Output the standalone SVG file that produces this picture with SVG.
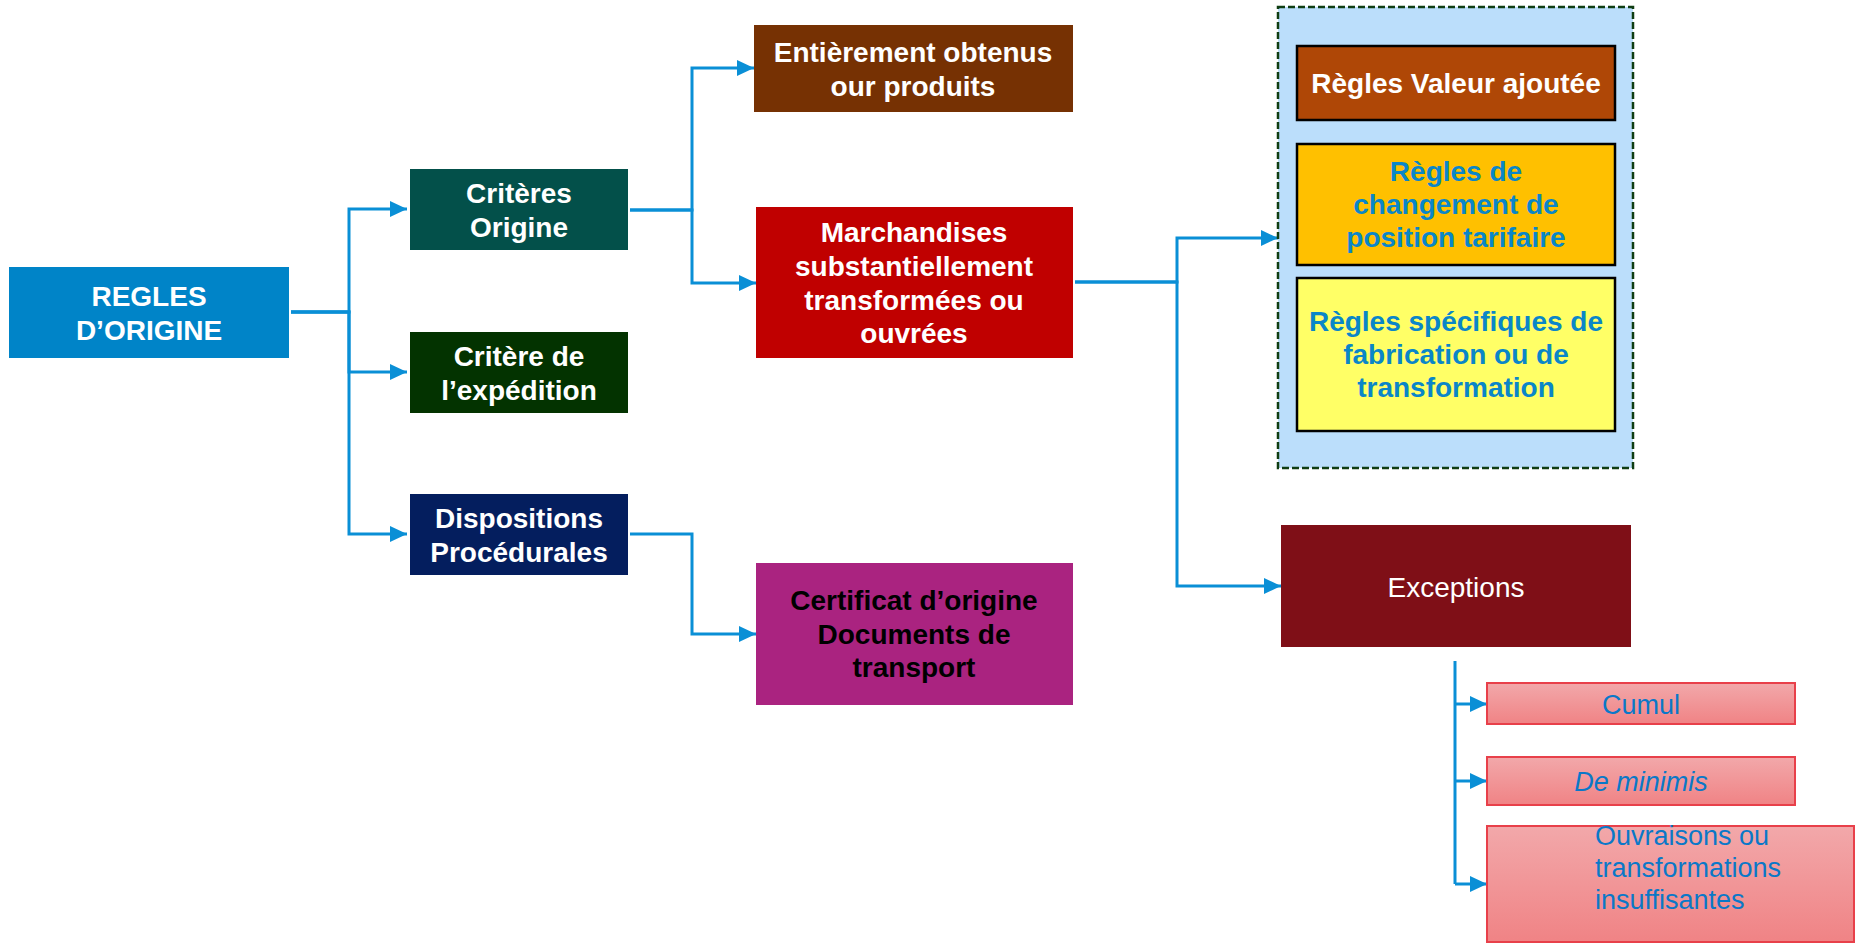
<svg xmlns="http://www.w3.org/2000/svg" width="1855" height="944" viewBox="0 0 1855 944">
<style>
text { font-family: "Liberation Sans", Arial, sans-serif; text-anchor: middle; }
.b { font-weight: bold; font-size: 28px; }
.w { fill: #ffffff; }
.k { fill: #000000; }
.bl { fill: #0A86C8; }
.r { font-size: 27px; fill: #0A78C8; }
.conn { fill: none; stroke: #0A8FD6; stroke-width: 3; marker-end: url(#arr); }
.pink { fill: url(#pg); stroke: #E8404A; stroke-width: 2; }
.inner { stroke: #000000; stroke-width: 2.5; }
</style>
<defs>
<marker id="arr" markerUnits="userSpaceOnUse" markerWidth="18" markerHeight="18" refX="17" refY="9" orient="auto">
<path d="M0,1 L17,9 L0,17 Z" fill="#0A8FD6"/>
</marker>
<linearGradient id="pg" x1="0" y1="0" x2="0" y2="1">
<stop offset="0" stop-color="#F2A8AA"/>
<stop offset="1" stop-color="#F08385"/>
</linearGradient>
</defs>
<rect width="1855" height="944" fill="#ffffff"/>

<g id="connectors">
<path class="conn" d="M291,312 H349 V209 H407"/>
<path class="conn" d="M291,312 H349 V372 H407"/>
<path class="conn" d="M291,312 H349 V534 H407"/>
<path class="conn" d="M630,210 H692 V68 H754"/>
<path class="conn" d="M630,210 H692 V283 H756"/>
<path class="conn" d="M630,534 H692 V634 H756"/>
<path class="conn" d="M1075,282 H1177 V238 H1278"/>
<path class="conn" d="M1075,282 H1177 V586 H1281"/>
<path fill="none" stroke="#0A8FD6" stroke-width="3" d="M1455,661 V884"/>
<path class="conn" d="M1455,704 H1487"/>
<path class="conn" d="M1455,781 H1487"/>
<path class="conn" d="M1455,884 H1487"/>
</g>

<g id="regles">
<rect x="9" y="267" width="280" height="91" fill="#0084C8"/>
<text class="b w" x="149" y="306">REGLES</text>
<text class="b w" x="149" y="340">D’ORIGINE</text>
</g>

<g id="criteres-origine">
<rect x="410" y="169" width="218" height="81" fill="#03504A"/>
<text class="b w" x="519" y="203">Critères</text>
<text class="b w" x="519" y="237">Origine</text>
</g>

<g id="critere-expedition">
<rect x="410" y="332" width="218" height="81" fill="#033300"/>
<text class="b w" x="519" y="366">Critère de</text>
<text class="b w" x="519" y="400">l’expédition</text>
</g>

<g id="dispositions">
<rect x="410" y="494" width="218" height="81" fill="#041E5E"/>
<text class="b w" x="519" y="528">Dispositions</text>
<text class="b w" x="519" y="562">Procédurales</text>
</g>

<g id="entierement">
<rect x="754" y="25" width="319" height="87" fill="#763103"/>
<text class="b w" x="913" y="62">Entièrement obtenus</text>
<text class="b w" x="913" y="96">our produits</text>
</g>

<g id="marchandises">
<rect x="756" y="207" width="317" height="151" fill="#C00000"/>
<text class="b w" x="914" y="242">Marchandises</text>
<text class="b w" x="914" y="276">substantiellement</text>
<text class="b w" x="914" y="310">transformées ou</text>
<text class="b w" x="914" y="343">ouvrées</text>
</g>

<g id="certificat">
<rect x="756" y="563" width="317" height="142" fill="#AA2380"/>
<text class="b k" x="914" y="610">Certificat d’origine</text>
<text class="b k" x="914" y="644">Documents de</text>
<text class="b k" x="914" y="677">transport</text>
</g>

<g id="groupe-regles">
<rect x="1278" y="7" width="355" height="461" fill="#BBDEFB" stroke="#0F3D12" stroke-width="2.5" stroke-dasharray="7,3"/>
</g>

<g id="valeur-ajoutee">
<rect class="inner" x="1297" y="46" width="318" height="74" fill="#AF4706"/>
<text class="b w" x="1456" y="93">Règles Valeur ajoutée</text>
</g>

<g id="changement-position">
<rect class="inner" x="1297" y="144" width="318" height="121" fill="#FFC000"/>
<text class="b bl" x="1456" y="181">Règles de</text>
<text class="b bl" x="1456" y="214">changement de</text>
<text class="b bl" x="1456" y="247">position tarifaire</text>
</g>

<g id="regles-specifiques">
<rect class="inner" x="1297" y="278" width="318" height="153" fill="#FFFF66"/>
<text class="b bl" x="1456" y="331">Règles spécifiques de</text>
<text class="b bl" x="1456" y="364">fabrication ou de</text>
<text class="b bl" x="1456" y="397">transformation</text>
</g>

<g id="exceptions">
<rect x="1281" y="525" width="350" height="122" fill="#7F0F17"/>
<text class="w" x="1456" y="597" font-size="28">Exceptions</text>
</g>

<g id="cumul">
<rect class="pink" x="1487" y="683" width="308" height="41"/>
<text class="r" x="1641" y="714">Cumul</text>
</g>

<g id="de-minimis">
<rect class="pink" x="1487" y="757" width="308" height="48"/>
<text class="r" x="1641" y="791" font-style="italic">De minimis</text>
</g>

<g id="ouvraisons">
<rect class="pink" x="1487" y="826" width="367" height="116"/>
<text class="r" x="1595" y="845" style="text-anchor:start">Ouvraisons ou</text>
<text class="r" x="1595" y="877" style="text-anchor:start">transformations</text>
<text class="r" x="1595" y="909" style="text-anchor:start">insuffisantes</text>
</g>
</svg>
